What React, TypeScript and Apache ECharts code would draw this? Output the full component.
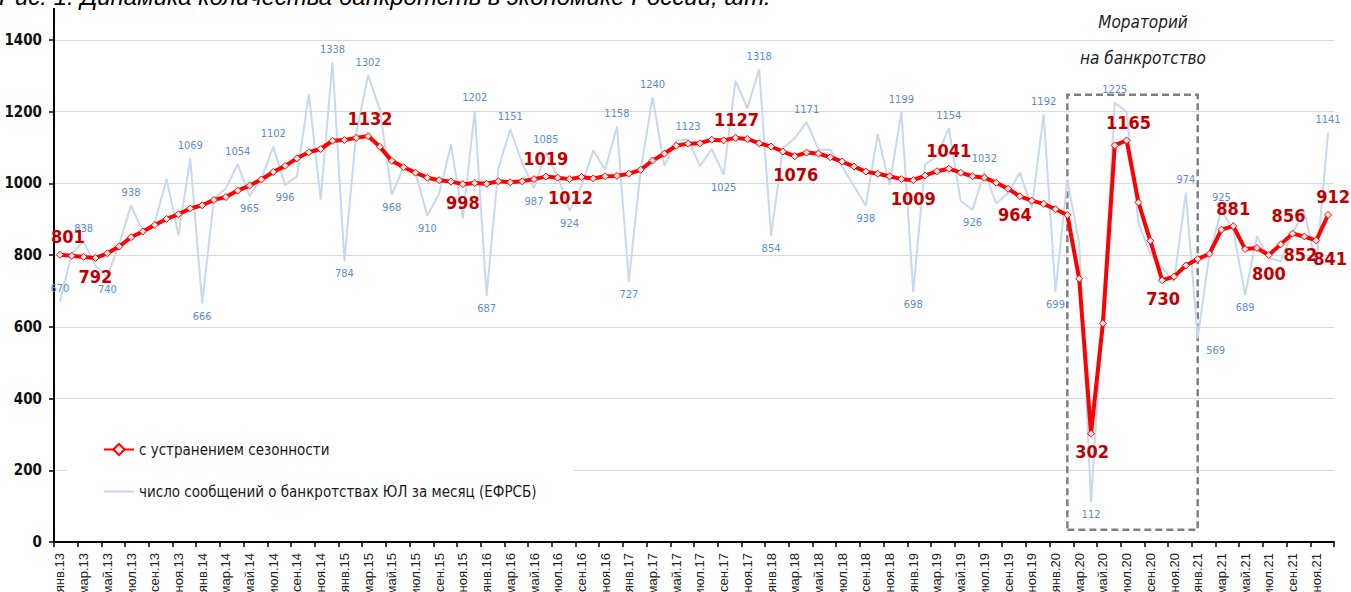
import React, { useEffect, useRef } from "react";
import * as echarts from "echarts";

const monthNames = ["янв", "фев", "мар", "апр", "май", "июн", "июл", "авг", "сен", "окт", "ноя", "дек"];
const years = ["13", "14", "15", "16", "17", "18", "19", "20", "21"];
const categories: string[] = [];
years.forEach((y) => monthNames.forEach((m) => categories.push(m + "." + y)));

const yTicks = [0, 200, 400, 600, 800, 1000, 1200, 1400];

// число сообщений о банкротствах ЮЛ за месяц (ЕФРСБ)
const monthlyValues = [
  670, 805, 838, 770, 740, 830, 938, 866, 890, 1012, 856, 1069,
  666, 958, 986, 1054, 965, 1014, 1102, 996, 1020, 1249, 956, 1338,
  784, 1140, 1302, 1205, 968, 1046, 1030, 910, 972, 1108, 903, 1202,
  687, 1043, 1151, 1057, 987, 1085, 1020, 924, 992, 1092, 1038, 1158,
  727, 1038, 1240, 1049, 1119, 1123, 1049, 1096, 1025, 1286, 1210, 1318,
  854, 1098, 1126, 1171, 1094, 1094, 1047, 992, 938, 1137, 996, 1199,
  698, 1053, 1076, 1154, 951, 926, 1032, 944, 974, 1030, 932, 1192,
  699, 1010, 833, 112, 640, 1225, 1200, 889, 805, 765, 726, 974,
  569, 805, 925, 871, 689, 853, 792, 783, 862, 923, 769, 1141,
];

// с устранением сезонности
const seasonalValues = [
  801, 798, 795, 792, 805, 824, 850, 866, 884, 901, 914, 930,
  939, 954, 962, 980, 994, 1011, 1032, 1049, 1070, 1087, 1096, 1119,
  1121, 1127, 1132, 1102, 1063, 1045, 1030, 1016, 1009, 1005, 998, 1001,
  999, 1006, 1003, 1006, 1012, 1019, 1016, 1012, 1018, 1014, 1020, 1021,
  1027, 1038, 1064, 1083, 1105, 1111, 1112, 1122, 1120, 1127, 1124, 1112,
  1103, 1089, 1076, 1086, 1083, 1073, 1061, 1047, 1033, 1027, 1020, 1012,
  1009, 1022, 1034, 1041, 1030, 1020, 1016, 1002, 985, 964, 952, 943,
  928, 912, 734, 302, 610, 1106, 1120, 947, 840, 730, 740, 771,
  789, 804, 871, 881, 817, 820, 800, 830, 860, 852, 841, 912,
];

// [index, position, dx]
const monthlyLabels: [number, string, number][] = [
  [0, "top", 0], [2, "top", 0], [4, "bottom", 0], [6, "top", 0], [11, "top", 0], [12, "bottom", 0],
  [15, "top", 0], [16, "bottom", 0], [18, "top", 0], [19, "bottom", 0], [23, "top", 0], [24, "bottom", 0],
  [26, "top", 0], [28, "bottom", 0], [31, "bottom", 0], [35, "top", 0], [36, "bottom", 0], [38, "top", 0],
  [40, "bottom", 0], [41, "top", 0], [43, "bottom", 0], [47, "top", 0], [48, "bottom", 0], [50, "top", 0],
  [53, "top", 0], [56, "bottom", 0], [59, "top", 0], [60, "bottom", 0], [63, "top", 0], [68, "bottom", 0],
  [71, "top", 0], [72, "bottom", 0], [75, "top", 0], [77, "bottom", 0], [78, "top", 0], [83, "top", 0],
  [84, "bottom", 0], [87, "bottom", 0], [89, "top", 0], [95, "top", 0], [96, "bottom", 18], [98, "top", 0],
  [100, "bottom", 0], [107, "top", 0],
];

// [index, text, position, dx]
const seasonalLabels: [number, string, string, number][] = [
  [0, "801", "top", 8], [3, "792", "bottom", 0], [26, "1132", "top", 2], [34, "998", "bottom", 0],
  [41, "1019", "top", 0], [43, "1012", "bottom", 1], [57, "1127", "top", 1], [62, "1076", "bottom", 1],
  [72, "1009", "bottom", 0], [75, "1041", "top", 0], [81, "964", "bottom", -5], [87, "302", "bottom", 1],
  [90, "1165", "top", 2], [93, "730", "bottom", 1], [99, "881", "top", 0], [102, "800", "bottom", 0],
  [104, "856", "top", -4], [105, "852", "bottom", -4], [106, "841", "bottom", 14], [107, "912", "top", 5],
];

const NARROW = "'Liberation Sans Narrow', 'DejaVu Sans Condensed', 'Liberation Sans', Arial, sans-serif";
const SANS = "'Liberation Sans', Arial, sans-serif";

const redName = "с устранением сезонности";
const blueName = "число сообщений о банкротствах ЮЛ за месяц (ЕФРСБ)";

export default function App() {
  const ref = useRef<HTMLDivElement>(null);
  useEffect(() => {
    if (!ref.current) return;
    const chart = echarts.init(ref.current, null, { renderer: "svg" });

    const blueData = monthlyValues.map((v, i) => {
      const lab = monthlyLabels.find((l) => l[0] === i);
      return {
        value: v,
        label: lab
          ? {
              show: true,
              position: lab[1],
              offset: [lab[2], 0],
              distance: 7,
              color: "#5B8CD3",
              fontSize: 11,
              fontFamily: NARROW,
            }
          : { show: false },
      };
    });

    const redData = seasonalValues.map((v, i) => {
      const lab = seasonalLabels.find((l) => l[0] === i);
      return {
        value: v,
        label: lab
          ? {
              show: true,
              formatter: lab[1],
              position: lab[2],
              offset: [lab[3], 0],
              distance: 5,
              color: "#C00000",
              fontSize: 18,
              fontWeight: "bold",
              fontFamily: NARROW,
            }
          : { show: false },
      };
    });

    chart.setOption({
      animation: false,
      backgroundColor: "#ffffff",
      grid: { left: 54, right: 17, top: 40, bottom: 50, containLabel: false, outerBoundsMode: "none" },
      legend: {
        data: [
          { name: redName },
          { name: blueName, icon: "path://M0,0h30v2h-30z", itemStyle: { color: "#C6D9F1" } },
        ],
        orient: "vertical",
        left: 67,
        top: 436,
        itemGap: 27,
        itemWidth: 30,
        itemHeight: 14,
        padding: [6, 37, 6, 36],
        backgroundColor: "#ffffff",
        textStyle: { fontSize: 15, color: "#1a1a1a", fontFamily: NARROW },
      },
      xAxis: {
        type: "category",
        data: categories,
        boundaryGap: true,
        axisLine: { show: true, lineStyle: { color: "#000000", width: 2 } },
        axisTick: { show: true, interval: 1, length: 5, lineStyle: { color: "#000000", width: 1.5 } },
        axisLabel: {
          interval: 1,
          rotate: 90,
          margin: 11,
          fontSize: 13,
          color: "#222222",
          fontFamily: SANS,
        },
        splitLine: { show: false },
      },
      yAxis: {
        type: "value",
        min: yTicks[0],
        max: yTicks[yTicks.length - 1],
        interval: 200,
        axisLine: { show: true, lineStyle: { color: "#000000", width: 2 } },
        axisTick: { show: true, length: 5, lineStyle: { color: "#000000", width: 1.5 } },
        axisLabel: {
          margin: 12,
          fontSize: 15,
          fontWeight: "bold",
          color: "#111111",
          fontFamily: NARROW,
          formatter: (v: number) => String(v),
        },
        splitLine: { show: true, lineStyle: { color: "#D9D9D9", width: 1.2 } },
      },
      series: [
        {
          name: blueName,
          type: "line",
          data: blueData,
          symbol: "circle",
          symbolSize: 1,
          showSymbol: true,
          itemStyle: { color: "#C6D9F1" },
          lineStyle: { color: "#C6D9F1", width: 2 },
          z: 2,
          markArea: {
            silent: true,
            itemStyle: {
              color: "rgba(0,0,0,0)",
              borderColor: "#808080",
              borderWidth: 2.5,
              borderType: [7, 4],
            },
            data: [[{ xAxis: categories[85], yAxis: 34 }, { xAxis: categories[96], yAxis: 1247 }]],
          },
        },
        {
          name: redName,
          type: "line",
          data: redData,
          symbol: "diamond",
          symbolSize: 7,
          showSymbol: true,
          itemStyle: { color: "#FFE8E8", borderColor: "#FF0000", borderWidth: 1 },
          lineStyle: { color: "#FF0000", width: 4 },
          z: 3,
        },
      ],
      graphic: [
        {
          type: "line",
          shape: { x1: 54, y1: 8, x2: 54, y2: 41 },
          style: { stroke: "#000000", lineWidth: 2 },
        },
        {
          type: "text",
          x: -1,
          y: -4,
          style: {
            text: "Рис. 1. Динамика количества банкротств в экономике России, шт.",
            fontSize: 24,
            fontStyle: "italic",
            fontFamily: SANS,
            fill: "#000000",
            align: "left",
            verticalAlign: "middle",
          },
        },
        {
          type: "text",
          x: 1143,
          y: 22,
          style: {
            text: "Мораторий",
            fontSize: 17,
            fontStyle: "italic",
            fontFamily: NARROW,
            fill: "#222222",
            align: "center",
            verticalAlign: "middle",
          },
        },
        {
          type: "text",
          x: 1143,
          y: 58,
          style: {
            text: "на банкротство",
            fontSize: 17,
            fontStyle: "italic",
            fontFamily: NARROW,
            fill: "#222222",
            align: "center",
            verticalAlign: "middle",
          },
        },
      ],
    });
    return () => chart.dispose();
  }, []);
  return (
    <div
      ref={ref}
      style={{ position: "fixed", left: 0, top: 0, width: 1351, height: 592, background: "#fff" }}
    />
  );
}
